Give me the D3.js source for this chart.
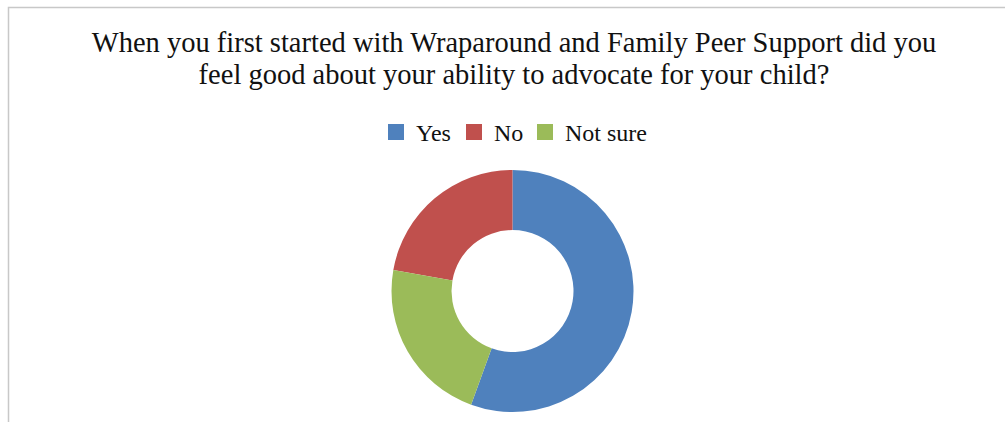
<!DOCTYPE html>
<html>
<head>
<meta charset="utf-8">
<script src="https://cdn.jsdelivr.net/npm/d3@7"></script>
<style>
  html, body { margin: 0; padding: 0; background: #fff; }
  svg { display: block; }
</style>
</head>
<body>
<script>
// Survey responses
const categories = ["Yes", "No", "Not sure"];
const counts = [10, 4, 4];
const colors = ["#4f81bd", "#c0504d", "#9bbb59"];
// Clockwise drawing order of the slices (indices into categories)
const sliceOrder = [0, 2, 1];
const titleLines = [
  "When you first started with Wraparound and Family Peer Support did you",
  "feel good about your ability to advocate for your child?"
];

const W = 1005, H = 422;
const svg = d3.select("body").append("svg").attr("width", W).attr("height", H);

// Chart frame
svg.append("rect")
  .attr("x", 8.5).attr("y", 7.5).attr("width", 1010).attr("height", 430)
  .attr("fill", "#fff").attr("stroke", "#c8c8c8").attr("stroke-width", 1.5);

// Title
const cx = 514;
svg.append("g").selectAll("text").data(titleLines).join("text")
  .attr("x", cx).attr("y", (d, i) => 52 + i * 32)
  .attr("text-anchor", "middle")
  .attr("font-family", "Liberation Serif").attr("font-size", 28.5)
  .attr("fill", "#111").text(d => d);

// Legend
const legendX = [388, 466, 537];
const lg = svg.append("g").selectAll("g").data(categories).join("g")
  .attr("transform", (d, i) => `translate(${legendX[i]},124)`);
lg.append("rect").attr("width", 16).attr("height", 16)
  .attr("fill", (d, i) => colors[i]);
lg.append("text").attr("x", 28).attr("y", 17)
  .attr("font-family", "Liberation Serif").attr("font-size", 24)
  .attr("fill", "#111").text(d => d);

// Donut
const data = categories.map((c, i) => ({ c, v: counts[i], color: colors[i], k: sliceOrder.indexOf(i) }));
const pie = d3.pie().sort((a, b) => a.k - b.k).value(d => d.v);
const arc = d3.arc().innerRadius(61).outerRadius(121);
svg.append("g").attr("transform", `translate(512.5,291)`)
  .selectAll("path").data(pie(data)).join("path")
  .attr("d", arc)
  .attr("fill", d => d.data.color);
</script>
</body>
</html>
